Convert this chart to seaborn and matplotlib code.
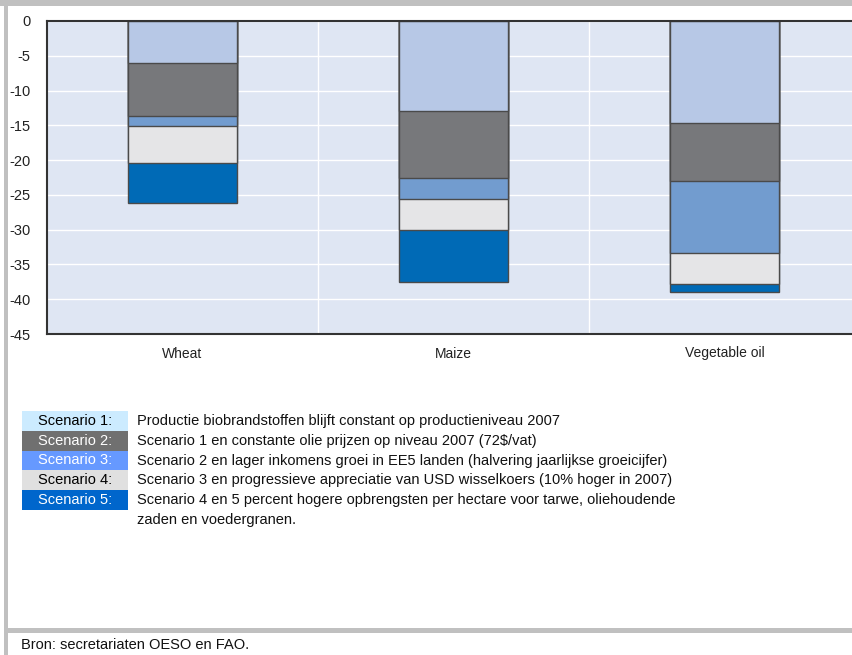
import numpy as np
import pandas as pd
import seaborn as sns
import matplotlib.pyplot as plt
from matplotlib.patches import Rectangle

# Data (percent change)
crops = ['Wheat', 'Maize', 'Vegetable oil']
scenarios = ['Scenario 1', 'Scenario 2', 'Scenario 3', 'Scenario 4', 'Scenario 5']
s1 = [-6.0, -12.9, -14.7]
s2 = [-7.6, -9.7, -8.3]
s3 = [-1.5, -3.0, -10.4]
s4 = [-5.3, -4.4, -4.4]
s5 = [-5.7, -7.5, -1.2]
bar_colors = ['#b7c8e6', '#77787b', '#729ccf', '#e5e5e7', '#006ab6']
legend_colors = ['#ccebff', '#707070', '#6699ff', '#e0e0e0', '#0066cc']
legend_text_colors = ['black', 'white', 'white', 'black', 'white']
descriptions = [
    'Productie biobrandstoffen blijft constant op productieniveau 2007',
    'Scenario 1 en constante olie prijzen op niveau 2007 (72\\$/vat)',
    'Scenario 2 en lager inkomens groei in EE5 landen (halvering jaarlijkse groeicijfer)',
    'Scenario 3 en progressieve appreciatie van USD wisselkoers (10% hoger in 2007)',
    'Scenario 4 en 5 percent hogere opbrengsten per hectare voor tarwe, oliehoudende',
]
extra_line = 'zaden en voedergranen.'
source = 'Bron: secretariaten OESO en FAO.'

# long table with cumulative values for stacking
df = pd.DataFrame({'crop': crops, 'Scenario 1': s1, 'Scenario 2': s2, 'Scenario 3': s3,
                   'Scenario 4': s4, 'Scenario 5': s5})
long = df.melt(id_vars='crop', var_name='scenario', value_name='value')
long['cum'] = long.groupby('crop')['value'].cumsum()

W, H = 853, 655
plt.rcParams['font.family'] = ['Liberation Sans', 'DejaVu Sans']
plt.rcParams['axes.unicode_minus'] = False

fig = plt.figure(figsize=(W / 100, H / 100), dpi=100)
fig.patch.set_facecolor('white')


def fx(px):
    return px / W


def fy(py):
    return 1 - py / H


ax = fig.add_axes([fx(47), fy(334), fx(813), (334 - 21) / H])
ax.set_facecolor('#dfe6f3')

# deepest cumulative first, shallower on top
for sc, col in reversed(list(zip(scenarios, bar_colors))):
    sub = long[long['scenario'] == sc]
    sns.barplot(data=sub, x='crop', y='cum', order=crops, color=col, saturation=1,
                width=0.4, edgecolor='#4a4a4a', linewidth=1.0, errorbar=None, ax=ax)

ax.set_ylim(-45, 0)
ax.set_xlim(-0.5, 2.5)
ax.set_yticks(np.arange(-45, 1, 5))
ax.set_xlabel('')
ax.set_ylabel('')
ax.set_xticks([0, 1, 2], crops)
ax.set_axisbelow(True)
ax.yaxis.grid(True, color='white', linewidth=1.0)
for xv in [0.5, 1.5]:
    ax.axvline(xv, color='white', linewidth=1.0, zorder=0.5)
ax.tick_params(axis='both', length=0, labelsize=10.5, colors='#222222')
ax.tick_params(axis='y', pad=12)
ax.tick_params(axis='x', labelsize=10, pad=9)
for side in ['top', 'left', 'bottom']:
    ax.spines[side].set_color('#333333')
    ax.spines[side].set_linewidth(1.5)
ax.spines['right'].set_visible(False)

# legend block
row0, rowh = 411, 19.8
fs = 10.5
for i, (sc, lc, tc, desc) in enumerate(zip(scenarios, legend_colors, legend_text_colors, descriptions)):
    top = row0 + i * rowh
    fig.patches.append(Rectangle((fx(22), fy(top + rowh)), fx(106), rowh / H,
                                 transform=fig.transFigure, facecolor=lc, edgecolor='none'))
    fig.text(fx(75), fy(top + rowh / 2), sc + ':', ha='center', va='center',
             fontsize=fs, color=tc)
    fig.text(fx(137), fy(top + rowh / 2), desc, ha='left', va='center',
             fontsize=fs, color='#111111')
fig.text(fx(137), fy(row0 + 5 * rowh + rowh / 2), extra_line, ha='left', va='center',
         fontsize=fs, color='#111111')

# frame
frame = '#c0c0c0'
fig.patches.append(Rectangle((fx(4), 0), fx(4), 1, transform=fig.transFigure,
                             facecolor=frame, edgecolor='none'))
fig.patches.append(Rectangle((0, fy(6)), 1, 6 / H, transform=fig.transFigure,
                             facecolor=frame, edgecolor='none'))
fig.patches.append(Rectangle((fx(4), fy(633)), 1, 5 / H, transform=fig.transFigure,
                             facecolor=frame, edgecolor='none'))
fig.text(fx(21), fy(645), source, ha='left', va='center', fontsize=fs,
         color='#111111')

fig.savefig('out.png', dpi=100)
